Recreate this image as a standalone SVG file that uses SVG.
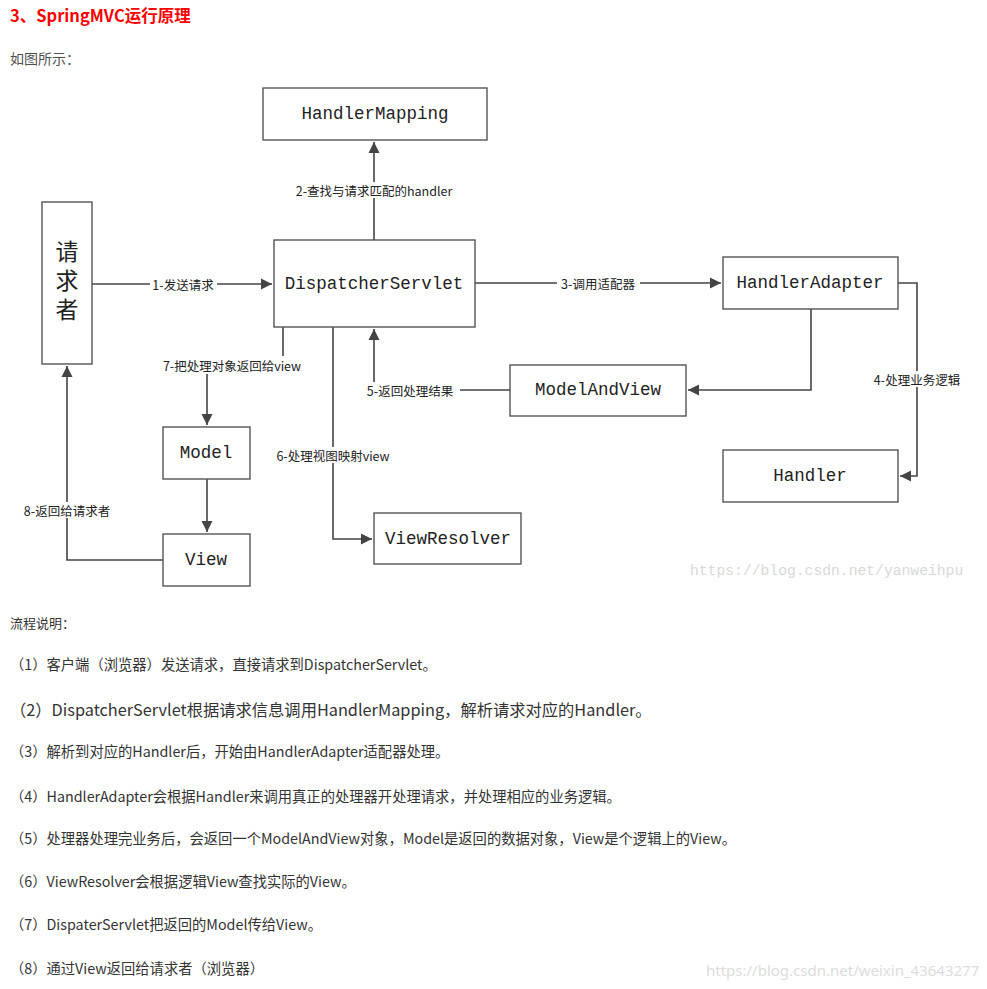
<svg xmlns="http://www.w3.org/2000/svg" width="987" height="989" viewBox="0 0 987 989">
<style>
.box{fill:#fff;stroke:#555;stroke-width:1.4}
.bt{font-family:"Liberation Mono","Noto Sans CJK SC",monospace;font-size:17.5px;fill:#222;text-anchor:middle;dominant-baseline:central}
.ln{fill:none;stroke:#444;stroke-width:1.6}
.lb{font-family:"Noto Sans CJK SC","Noto Sans",sans-serif;font-size:12.5px;fill:#222;text-anchor:middle;dominant-baseline:central}
.lbg{fill:#fff}
.body{font-family:"Noto Sans CJK SC","Noto Sans",sans-serif;font-size:14.3px;fill:#333}
</style>
<defs>
<marker id="ah" markerUnits="userSpaceOnUse" markerWidth="12" markerHeight="12" refX="11" refY="6" orient="auto">
<path d="M0,0.5 L11,6 L0,11.5 z" fill="#444"/>
</marker>
</defs>
<rect width="987" height="989" fill="#fff"/>
<text x="10" y="22" style="font-family:'Noto Sans CJK SC','Noto Sans',sans-serif;font-size:16.5px;font-weight:bold;fill:#f00">3、SpringMVC运行原理</text>
<text x="10" y="64" style="font-family:'Noto Sans CJK SC','Noto Sans',sans-serif;font-size:14px;fill:#4f4f4f">如图所示：</text>

<g id="connectors">
<path class="ln" d="M92,284 H272" marker-end="url(#ah)"/>
<path class="ln" d="M374,240 V142" marker-end="url(#ah)"/>
<path class="ln" d="M475,283 H721" marker-end="url(#ah)"/>
<path class="ln" d="M898,283 H917 V476 H900" marker-end="url(#ah)"/>
<path class="ln" d="M811,309 V390 H688" marker-end="url(#ah)"/>
<path class="ln" d="M510,390 H374 V329" marker-end="url(#ah)"/>
<path class="ln" d="M333,327 V539 H372" marker-end="url(#ah)"/>
<path class="ln" d="M283,327 V365 H207 V425" marker-end="url(#ah)"/>
<path class="ln" d="M207,479 V532" marker-end="url(#ah)"/>
<path class="ln" d="M163,560 H67 V366" marker-end="url(#ah)"/>
<rect class="lbg" x="150" y="276" width="67" height="16"/>
<text class="lb" x="183" y="284">1-发送请求</text>
<rect class="lbg" x="290" y="182" width="168" height="16"/>
<text class="lb" x="374" y="190">2-查找与请求匹配的handler</text>
<rect class="lbg" x="557" y="275" width="83" height="16"/>
<text class="lb" x="598" y="283">3-调用适配器</text>
<rect class="lbg" x="869" y="371" width="96" height="16"/>
<text class="lb" x="917" y="379">4-处理业务逻辑</text>
<rect class="lbg" x="362" y="382" width="98" height="16"/>
<text class="lb" x="410" y="390">5-返回处理结果</text>
<rect class="lbg" x="271" y="447" width="125" height="16"/>
<text class="lb" x="333" y="455">6-处理视图映射view</text>
<rect class="lbg" x="156" y="356" width="152" height="18"/>
<text class="lb" x="232" y="365">7-把处理对象返回给view</text>
<rect class="lbg" x="18" y="502" width="98" height="16"/>
<text class="lb" x="67" y="510">8-返回给请求者</text>
</g>

<g id="requester">
<rect class="box" x="42" y="202" width="50" height="162"/>
<text x="67" y="283" writing-mode="vertical-rl" style="font-family:'Noto Sans CJK SC',sans-serif;font-size:23px;letter-spacing:6px;fill:#222;text-anchor:middle">请求者</text>
</g>
<g id="handlerMapping">
<rect class="box" x="263" y="88" width="224" height="52"/>
<text class="bt" x="375" y="114">HandlerMapping</text>
</g>
<g id="dispatcherServlet">
<rect class="box" x="274" y="240" width="201" height="87"/>
<text class="bt" x="374" y="284">DispatcherServlet</text>
</g>
<g id="handlerAdapter">
<rect class="box" x="723" y="257" width="175" height="52"/>
<text class="bt" x="810" y="283">HandlerAdapter</text>
</g>
<g id="modelAndView">
<rect class="box" x="510" y="365" width="176" height="51"/>
<text class="bt" x="598" y="390">ModelAndView</text>
</g>
<g id="handler">
<rect class="box" x="723" y="450" width="175" height="52"/>
<text class="bt" x="810" y="476">Handler</text>
</g>
<g id="model">
<rect class="box" x="163" y="427" width="87" height="52"/>
<text class="bt" x="206" y="453">Model</text>
</g>
<g id="view">
<rect class="box" x="163" y="534" width="87" height="52"/>
<text class="bt" x="206" y="560">View</text>
</g>
<g id="viewResolver">
<rect class="box" x="374" y="513" width="147" height="51"/>
<text class="bt" x="448" y="539">ViewResolver</text>
</g>

<text x="690" y="575" style="font-family:'Liberation Mono',monospace;font-size:14.7px;fill:#d8d8d8">https://blog.csdn.net/yanweihpu</text>

<text class="body" x="10" y="628" style="font-size:13px">流程说明：</text>
<text class="body" x="10" y="670">（1）客户端（浏览器）发送请求，直接请求到DispatcherServlet。</text>
<text class="body" x="10" y="716" style="font-size:16.3px">（2）DispatcherServlet根据请求信息调用HandlerMapping，解析请求对应的Handler。</text>
<text class="body" x="10" y="757">（3）解析到对应的Handler后，开始由HandlerAdapter适配器处理。</text>
<text class="body" x="10" y="802">（4）HandlerAdapter会根据Handler来调用真正的处理器开处理请求，并处理相应的业务逻辑。</text>
<text class="body" x="10" y="844">（5）处理器处理完业务后，会返回一个ModelAndView对象，Model是返回的数据对象，View是个逻辑上的View。</text>
<text class="body" x="10" y="887">（6）ViewResolver会根据逻辑View查找实际的View。</text>
<text class="body" x="10" y="930">（7）DispaterServlet把返回的Model传给View。</text>
<text class="body" x="10" y="974">（8）通过View返回给请求者（浏览器）</text>
<text x="706" y="976" style="font-family:'Noto Sans','Liberation Sans',sans-serif;font-size:15px;fill:#dcdcdc">https://blog.csdn.net/weixin_43643277</text>
</svg>
